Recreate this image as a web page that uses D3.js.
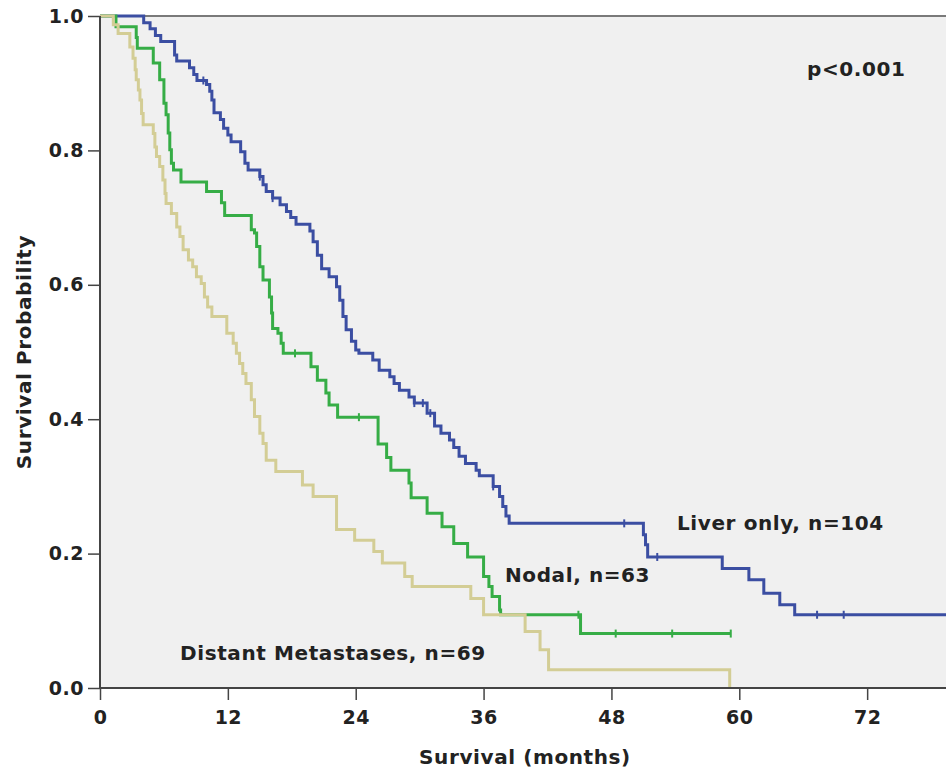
<!DOCTYPE html>
<html>
<head>
<meta charset="utf-8">
<script src="https://cdn.jsdelivr.net/npm/d3@7"></script>
<style>
	body { margin: 0; background: #fff; }
	text { font-family: "DejaVu Sans", sans-serif; font-weight: bold; fill: #222; }
</style>
</head>
<body>
<svg width="946" height="773"></svg>
<script>
// Kaplan-Meier steps: [month, survival after the drop]
var liverSteps = [
	[4.1,0.990],[4.7,0.981],[5.2,0.971],[5.7,0.962],[7.0,0.942],[7.2,0.933],[8.4,0.923],[8.8,0.913],
	[9.1,0.904],[10.0,0.898],[10.3,0.888],[10.5,0.875],[10.7,0.856],[11.3,0.846],[11.6,0.833],[12.0,0.823],
	[12.3,0.813],[13.2,0.798],[13.6,0.781],[13.9,0.771],[15.0,0.761],[15.3,0.749],[15.6,0.739],[16.2,0.729],
	[16.9,0.719],[17.5,0.709],[17.9,0.700],[18.4,0.690],[19.7,0.680],[20.0,0.664],[20.4,0.644],[20.8,0.624],
	[21.5,0.612],[22.2,0.597],[22.5,0.577],[22.8,0.553],[23.1,0.533],[23.6,0.516],[24.0,0.503],[24.3,0.498],
	[25.6,0.488],[26.2,0.473],[27.2,0.463],[27.6,0.453],[28.1,0.443],[29.0,0.433],[29.5,0.424],[30.7,0.409],
	[31.4,0.390],[32.0,0.379],[32.8,0.369],[33.2,0.358],[33.7,0.345],[34.3,0.334],[35.3,0.324],[35.6,0.316],
	[36.9,0.300],[37.5,0.285],[37.8,0.270],[38.1,0.256],[38.4,0.245],[51.0,0.228],[51.2,0.213],[51.4,0.195],
	[58.4,0.178],[60.9,0.161],[62.3,0.141],[63.8,0.124],[65.2,0.109]
];
var liverCensored = [9.7, 15.0, 16.2, 29.5, 30.3, 31.0, 36.9, 49.2, 52.3, 67.3, 69.8];
var liverEnd = 79.4;

var nodalSteps = [
	[1.5,0.984],[3.4,0.968],[3.5,0.952],[5.0,0.930],[5.6,0.905],[6.0,0.870],[6.2,0.853],[6.4,0.826],
	[6.55,0.801],[6.7,0.781],[6.9,0.771],[7.6,0.753],[10.0,0.739],[11.4,0.722],[11.7,0.703],[14.2,0.682],
	[14.5,0.677],[14.7,0.657],[15.0,0.627],[15.3,0.607],[15.9,0.582],[16.1,0.558],[16.2,0.535],[16.7,0.528],
	[17.0,0.513],[17.2,0.498],[19.8,0.478],[20.4,0.458],[21.2,0.439],[21.5,0.421],[22.3,0.403],[26.1,0.363],
	[26.9,0.343],[27.3,0.324],[29.0,0.305],[29.2,0.283],[30.7,0.260],[32.1,0.240],[33.2,0.215],[34.5,0.195],
	[36.0,0.166],[36.5,0.151],[36.8,0.136],[37.5,0.116],[37.6,0.109],[45.1,0.081]
];
var nodalCensored = [18.3, 24.3, 44.9, 48.4, 53.7, 59.2];
var nodalEnd = 59.2;

var distantSteps = [
	[1.25,0.987],[1.7,0.974],[2.8,0.954],[3.1,0.937],[3.3,0.920],[3.4,0.905],[3.6,0.890],[3.75,0.875],
	[3.9,0.855],[4.05,0.838],[5.0,0.825],[5.15,0.805],[5.3,0.791],[5.6,0.776],[5.9,0.756],[6.1,0.736],
	[6.2,0.721],[6.7,0.706],[7.2,0.686],[7.5,0.672],[7.8,0.652],[8.3,0.637],[8.7,0.627],[9.05,0.612],
	[9.5,0.602],[9.8,0.582],[10.1,0.567],[10.5,0.553],[11.9,0.528],[12.5,0.513],[12.8,0.498],[13.1,0.483],
	[13.4,0.468],[13.7,0.453],[14.2,0.429],[14.5,0.404],[15.0,0.379],[15.3,0.364],[15.6,0.339],[16.5,0.322],
	[19.0,0.302],[20.0,0.285],[22.2,0.236],[23.9,0.220],[25.7,0.203],[26.5,0.186],[28.6,0.166],[29.3,0.151],
	[34.8,0.133],[36.0,0.109],[39.9,0.084],[41.3,0.057],[42.1,0.027],[59.1,0.0]
];
var distantCensored = [];
var distantEnd = 59.1;

var xTicks = [0, 12, 24, 36, 48, 60, 72];
var yTicks = [0, 0.2, 0.4, 0.6, 0.8, 1.0];

(function () {

var groups = [
	{ name: 'Liver only, n=104', steps: liverSteps, censored: liverCensored, end: liverEnd, color: '#3b4ea2', label: [677, 530] },
	{ name: 'Nodal, n=63', steps: nodalSteps, censored: nodalCensored, end: nodalEnd, color: '#36ad46', label: [505, 582] },
	{ name: 'Distant Metastases, n=69', steps: distantSteps, censored: distantCensored, end: distantEnd, color: '#d3cd95', label: [180, 660] }
];

var plot = { left: 100, right: 946, top: 16, bottom: 688 };
var svg = d3.select('svg');

var x = d3.scaleLinear().domain([0, 79.4]).range([plot.left, plot.right]);
var y = d3.scaleLinear().domain([0, 1]).range([plot.bottom, plot.top]);

svg.append('rect')
	.attr('x', plot.left).attr('y', plot.top)
	.attr('width', plot.right - plot.left).attr('height', plot.bottom - plot.top)
	.attr('fill', '#f0f0f0');

// top frame line
svg.append('line')
	.attr('x1', plot.left).attr('x2', plot.right)
	.attr('y1', plot.top).attr('y2', plot.top)
	.attr('stroke', '#7a7a7a').attr('stroke-width', 2);

// survival value at a given time, used for censor marks
var survivalAt = function (steps, t) {
	var s = 1;
	steps.forEach(function (d) { if (d[0] <= t) s = d[1]; });
	return s;
};

var line = d3.line()
	.x(function (d) { return x(d[0]); })
	.y(function (d) { return y(d[1]); })
	.curve(d3.curveStepAfter);

var curves = svg.append('g').attr('class', 'curves');

groups.forEach(function (g) {
	var pts = [[0, 1]].concat(g.steps);
	var last = pts[pts.length - 1];
	if (last[0] < g.end) pts.push([g.end, last[1]]);

	curves.append('path')
		.attr('d', line(pts))
		.attr('fill', 'none')
		.attr('stroke', g.color)
		.attr('stroke-width', 3);

	curves.selectAll(null)
		.data(g.censored)
		.enter().append('line')
		.attr('x1', function (t) { return x(t); })
		.attr('x2', function (t) { return x(t); })
		.attr('y1', function (t) { return y(survivalAt(g.steps, t)) - 4; })
		.attr('y2', function (t) { return y(survivalAt(g.steps, t)) + 4; })
		.attr('stroke', g.color)
		.attr('stroke-width', 2);

	svg.append('text')
		.attr('x', g.label[0]).attr('y', g.label[1])
		.style('font-size', '20px')
		.style('letter-spacing', '0.6px')
		.text(g.name);
});

var xAxis = svg.append('g')
	.attr('transform', 'translate(0,' + plot.bottom + ')')
	.call(d3.axisBottom(x).tickValues(xTicks).tickSize(12).tickPadding(11).tickFormat(d3.format('d')));

var yAxis = svg.append('g')
	.attr('transform', 'translate(' + plot.left + ',0)')
	.call(d3.axisLeft(y).tickValues(yTicks).tickSize(12).tickPadding(4).tickFormat(d3.format('.1f')));

[xAxis, yAxis].forEach(function (a) {
	a.select('.domain').attr('stroke', '#444').attr('stroke-width', 2);
	a.selectAll('.tick line').attr('stroke', '#444').attr('stroke-width', 1.5);
	a.selectAll('.tick text')
		.style('font-size', '19px')
		.style('letter-spacing', '0.5px')
		.style('font-family', '"DejaVu Sans", sans-serif')
		.attr('fill', '#222');
});
xAxis.select('.domain').attr('d', 'M' + plot.left + ',0H' + plot.right);
yAxis.select('.domain').attr('d', 'M0,' + plot.bottom + 'V' + plot.top);

svg.append('text')
	.attr('x', 525).attr('y', 764)
	.attr('text-anchor', 'middle')
	.style('font-size', '20px')
	.style('letter-spacing', '0.6px')
	.text('Survival (months)');

svg.append('text')
	.attr('transform', 'translate(31,352) rotate(-90)')
	.attr('text-anchor', 'middle')
	.style('font-size', '20px')
	.style('letter-spacing', '0.6px')
	.text('Survival Probability');

svg.append('text')
	.attr('x', 807).attr('y', 76)
	.style('font-size', '20px')
	.style('letter-spacing', '0.6px')
	.text('p<0.001');

})();
</script>
</body>
</html>
